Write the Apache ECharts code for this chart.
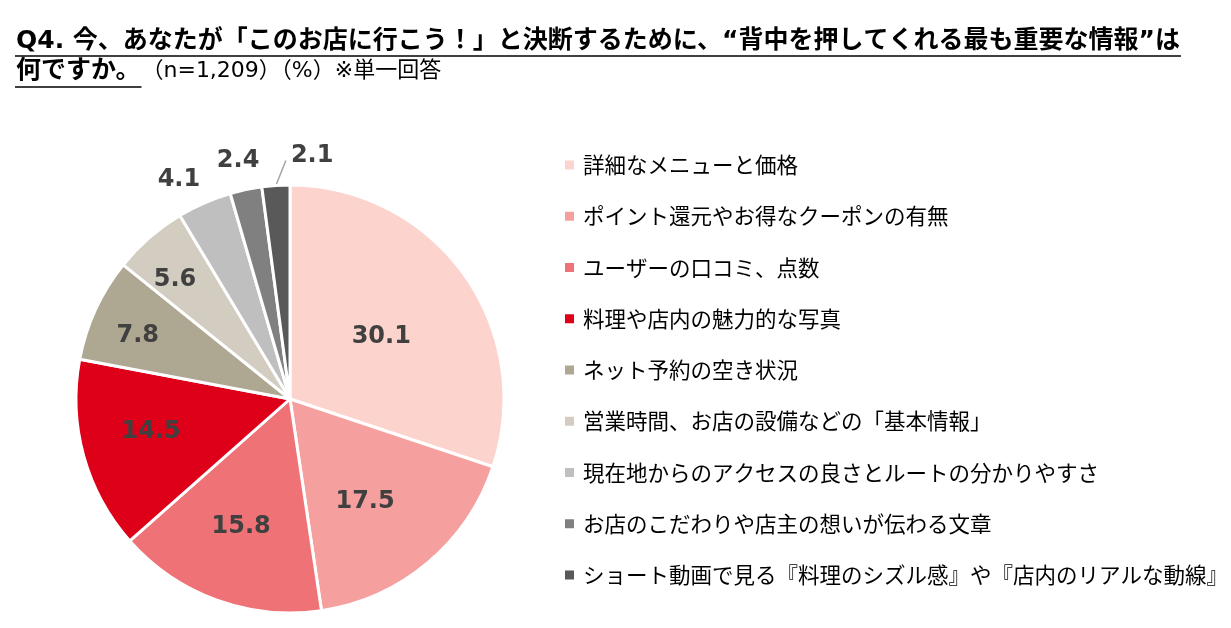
<!DOCTYPE html>
<html>
<head>
<meta charset="utf-8">
<script src="https://cdn.jsdelivr.net/npm/echarts@6/dist/echarts.min.js"></script>
<style>
html,body{margin:0;padding:0;background:#fff;}
#main{width:1231px;height:628px;}
</style>
</head>
<body>
<div id="main"></div>
<script>
// 項目名
var categories = [
	'詳細なメニューと価格',
	'ポイント還元やお得なクーポンの有無',
	'ユーザーの口コミ、点数',
	'料理や店内の魅力的な写真',
	'ネット予約の空き状況',
	'営業時間、お店の設備などの「基本情報」',
	'現在地からのアクセスの良さとルートの分かりやすさ',
	'お店のこだわりや店主の想いが伝わる文章',
	'ショート動画で見る『料理のシズル感』や『店内のリアルな動線』'
];
// 割合（%）
var values = [30.1, 17.5, 15.8, 14.5, 7.8, 5.6, 4.1, 2.4, 2.1];

var titleLine1 = 'Q4. 今、あなたが「このお店に行こう！」と決断するために、“背中を押してくれる最も重要な情報”は';
var titleLine2 = '何ですか。';
var subText = '（n=1,209）（%）※単一回答';

// 色・ラベル位置（スタイル）
var colors = ['#FCD3CD', '#F5A09F', '#EE7276', '#DD0018', '#AEA892', '#D2CDC0', '#BFBFBF', '#808080', '#595959'];
var labelDist = [0.516, 0.594, 0.64, 0.666, 0.77, 0.774, 1.147, 1.139, 1.0];
var labelAngleAdj = [1.5, 3.8, 0.9, 2.3, -2.3, -2.9, -3.3, -0.4, 0];

var jpFont = '"DejaVu Sans", "Noto Sans CJK JP", sans-serif';
var titleFont = 'bold 25px ' + jpFont;

// 下線の長さを文字幅から求める
var ctx = document.createElement('canvas').getContext('2d');
ctx.font = titleFont;
var w1 = ctx.measureText(titleLine1).width;
var w2 = ctx.measureText(titleLine2).width;

var myChart = echarts.init(document.getElementById('main'));

var pieData = [];
for (var i = 0; i < values.length; i++) {
	var item = {name: categories[i], value: values[i], itemStyle: {color: colors[i]}};
	if (i == values.length - 1) {
		item.label = {position: 'outside'};
		item.labelLine = {show: true, lineStyle: {color: '#A6A6A6', width: 1.5}};
	}
	pieData.push(item);
}

var option = {
	animation: false,
	graphic: [
		{type: 'text', left: 16, top: 29, style: {text: titleLine1, font: titleFont, fill: '#000'}},
		{type: 'line', shape: {x1: 15, y1: 56, x2: 17 + w1, y2: 56}, style: {stroke: '#000', lineWidth: 1.5}},
		{type: 'text', left: 16, top: 59, style: {text: titleLine2, font: titleFont, fill: '#000'}},
		{type: 'line', shape: {x1: 15, y1: 87, x2: 17 + w2, y2: 87}, style: {stroke: '#000', lineWidth: 1.5}},
		{type: 'text', left: 17 + w2, top: 60, style: {text: subText, font: '22px ' + jpFont, fill: '#000'}}
	],
	legend: {
		orient: 'vertical',
		left: 560,
		top: 148,
		icon: 'rect',
		itemWidth: 9,
		itemHeight: 9,
		itemGap: 27.25,
		itemStyle: {borderWidth: 0},
		textStyle: {fontSize: 21.5, fontFamily: '"Noto Sans CJK JP", sans-serif', color: '#000', lineHeight: 24, padding: [0, 0, 0, 4]},
		data: categories
	},
	series: [{
		type: 'pie',
		center: [290, 399],
		radius: [0, 214],
		startAngle: 90,
		clockwise: true,
		avoidLabelOverlap: false,
		emphasis: {scale: false},
		itemStyle: {borderColor: '#fff', borderWidth: 3},
		label: {
			position: 'inside',
			formatter: function (p) { return p.value.toFixed(1); },
			fontSize: 24,
			fontWeight: 'bold',
			fontFamily: '"DejaVu Sans", sans-serif',
			color: '#404040'
		},
		labelLine: {show: false},
		labelLayout: function (params) {
			var i = params.dataIndex;
			var lay = myChart.getModel().getSeriesByIndex(0).getData().getItemLayout(i);
			if (!lay) return {};
			var mid = (lay.startAngle + lay.endAngle) / 2;
			if (i == values.length - 1) {
				// 最小の項目は引き出し線付き
				var p0 = [lay.cx + lay.r * Math.cos(mid), lay.cy + lay.r * Math.sin(mid)];
				var p1 = [p0[0] + 10, p0[1] - 25];
				return {x: p1[0] + 5, y: p1[1] - 5, align: 'left', verticalAlign: 'middle', labelLinePoints: [p0, p1]};
			}
			var a = mid + labelAngleAdj[i] * Math.PI / 180;
			var d = lay.r * labelDist[i];
			return {
				x: lay.cx + d * Math.cos(a),
				y: lay.cy + d * Math.sin(a),
				align: 'center',
				verticalAlign: 'middle'
			};
		},
		data: pieData
	}]
};

myChart.setOption(option);
</script>
</body>
</html>
